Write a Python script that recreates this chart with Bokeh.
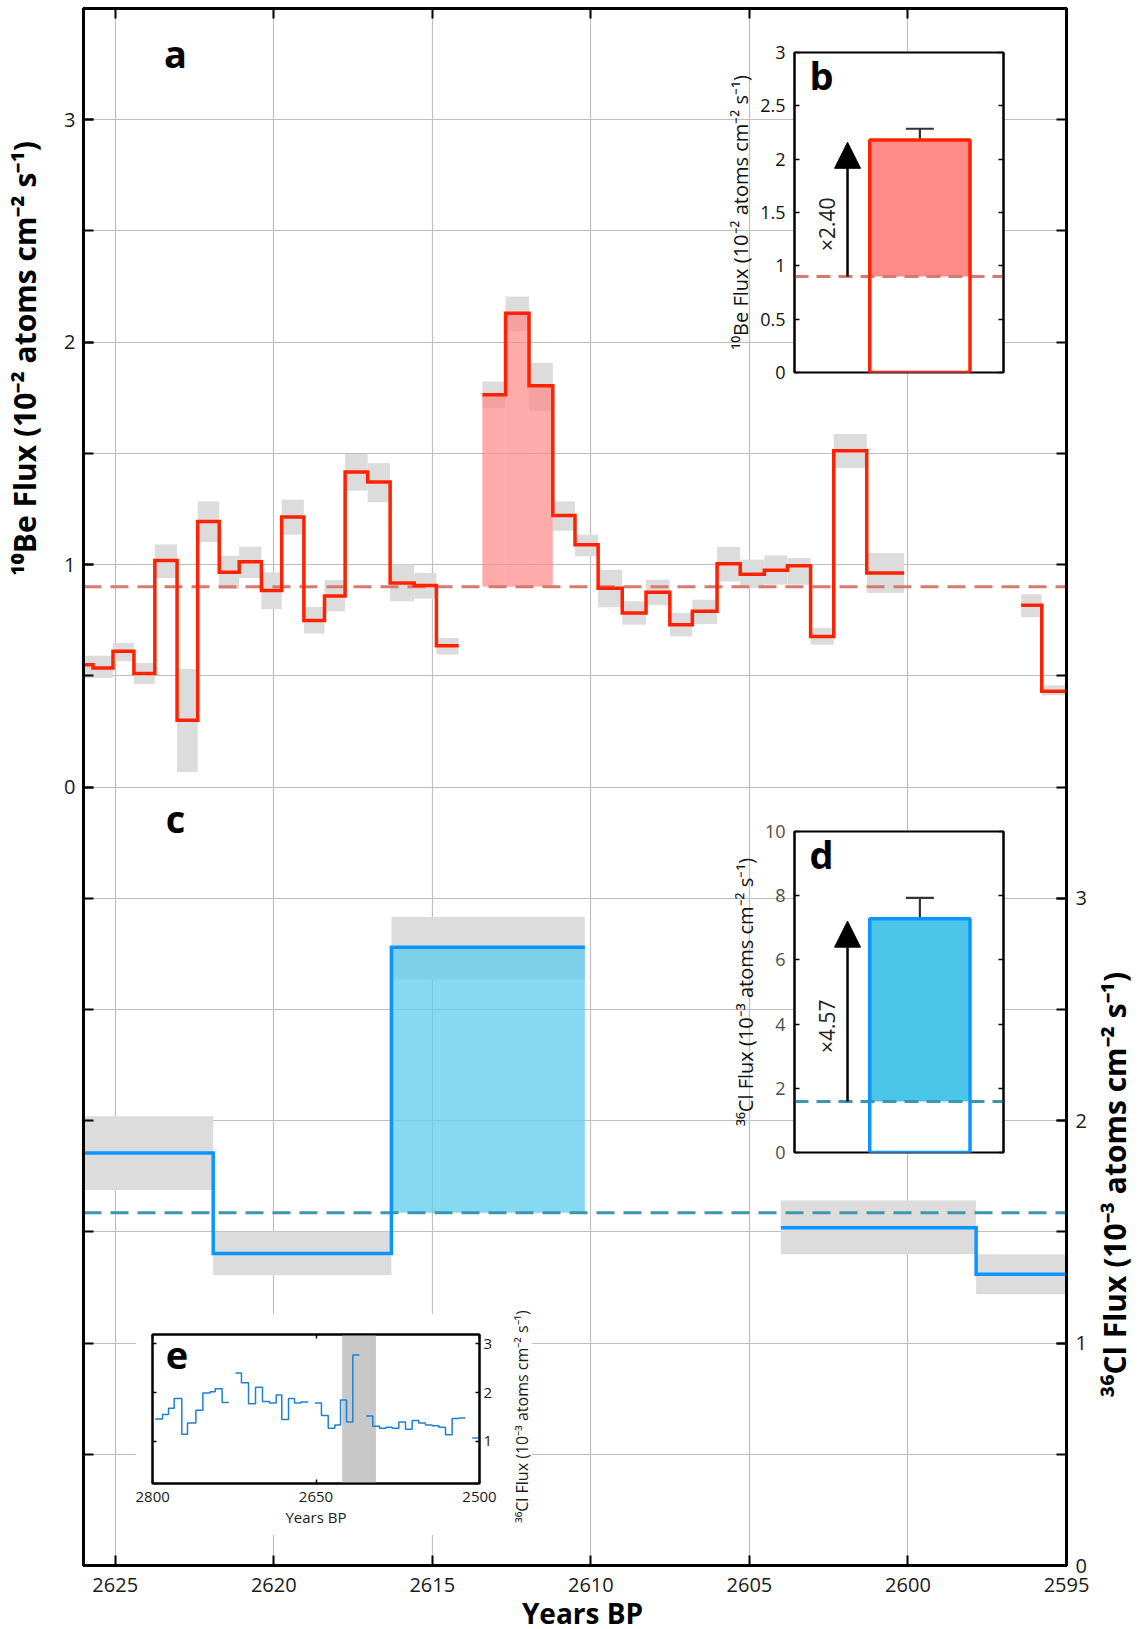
import math
from bokeh.plotting import figure
from bokeh.models import (Range1d, LinearAxis, FixedTicker, Label, ColumnDataSource,
                          Whisker, TeeHead, Arrow, NormalHead, BoxAnnotation)
from bokeh.embed import file_html
from bokeh.resources import INLINE

FONT = "Open Sans"

# ---------------- data ----------------
# 10Be flux (10^-2 atoms cm^-2 s^-1): step edges (years BP), values, 1-sigma band
be_edges_1 = [2626.3, 2625.70, 2625.07, 2624.41, 2623.75, 2623.05, 2622.40, 2621.72, 2621.09,
              2620.39, 2619.75, 2619.05, 2618.40, 2617.75, 2617.04, 2616.33, 2615.57, 2614.87, 2614.17]
be_vals_1 = [0.55, 0.535, 0.61, 0.51, 1.018, 0.30, 1.194, 0.966, 1.013, 0.883, 1.214, 0.749,
             0.859, 1.416, 1.371, 0.917, 0.906, 0.635]
be_hi_1 = [0.59, 0.59, 0.647, 0.557, 1.09, 0.53, 1.284, 1.04, 1.08, 0.965, 1.292, 0.81, 0.93,
           1.497, 1.456, 1.0, 0.962, 0.67]
be_lo_1 = [0.49, 0.49, 0.565, 0.463, 0.94, 0.067, 1.101, 0.89, 0.94, 0.80, 1.134, 0.69, 0.79,
           1.332, 1.28, 0.835, 0.847, 0.595]

be_edges_2 = [2613.42, 2612.69, 2611.95, 2611.20, 2610.50, 2609.77, 2609.01, 2608.26, 2607.51,
              2606.80, 2606.02, 2605.29, 2604.53, 2603.80, 2603.07, 2602.34, 2601.30, 2600.12]
be_vals_2 = [1.763, 2.13, 1.804, 1.221, 1.089, 0.894, 0.782, 0.876, 0.73, 0.79, 1.004, 0.957,
             0.974, 0.995, 0.677, 1.512, 0.962]
be_hi_2 = [1.823, 2.205, 1.906, 1.284, 1.134, 0.977, 0.835, 0.932, 0.782, 0.842, 1.079, 1.022,
           1.041, 1.029, 0.715, 1.587, 1.052]
be_lo_2 = [1.703, 2.048, 1.692, 1.152, 1.037, 0.808, 0.73, 0.817, 0.677, 0.733, 0.924, 0.894,
           0.91, 0.91, 0.64, 1.434, 0.872]

be_edges_3 = [2596.43, 2595.78, 2594.8]
be_vals_3 = [0.817, 0.43]
be_hi_3 = [0.867, 0.457]
be_lo_3 = [0.763, 0.412]

be_mean = 0.90
be_event = (2613.42, 2611.20)

# 36Cl flux (10^-3 atoms cm^-2 s^-1)
cl_edges_1 = [2627.5, 2621.91, 2616.29, 2610.19]
cl_vals_1 = [1.855, 1.403, 2.78]
cl_hi_1 = [2.02, 1.50, 2.916]
cl_lo_1 = [1.688, 1.306, 2.636]

cl_edges_2 = [2604.01, 2597.85, 2591.7]
cl_vals_2 = [1.518, 1.309]
cl_hi_2 = [1.641, 1.399]
cl_lo_2 = [1.399, 1.219]

cl_mean = 1.586
cl_event = (2616.29, 2610.19)

# inset bars
be_peak, be_peak_lo, be_peak_hi, be_ratio = 2.18, 2.05, 2.285, 2.40
cl_peak, cl_peak_lo, cl_peak_hi, cl_ratio = 7.28, 6.62, 7.93, 4.57

# inset e: long 36Cl record (years BP, 10^-3 atoms cm^-2 s^-1)
e_edges = [
    [2797.6, 2790.8, 2785.3, 2780.1, 2773.1, 2767.9, 2760.2, 2753.8, 2747.1, 2742.5, 2736.1, 2730.0],
    [2723.9, 2718.4, 2711.9, 2705.5, 2699.1, 2692.7, 2686.5, 2681.4, 2675.2, 2669.7, 2663.9, 2657.2],
    [2651.1, 2645.0, 2638.8, 2632.7, 2627.5, 2622.0, 2616.2, 2610.1],
    [2604.0, 2597.9, 2591.7, 2585.6, 2580.1, 2574.0, 2567.9, 2561.8, 2555.7, 2549.6, 2543.4,
     2537.3, 2531.2, 2525.1, 2519.0, 2512.9],
    [2506.7, 2500.0],
]
e_vals = [
    [1.46, 1.55, 1.68, 1.88, 1.15, 1.38, 1.64, 1.99, 2.02, 2.08, 1.80],
    [2.40, 2.20, 1.77, 2.11, 1.82, 1.79, 1.95, 1.45, 1.88, 1.79, 1.81],
    [1.79, 1.53, 1.27, 1.34, 1.85, 1.40, 2.77],
    [1.52, 1.31, 1.27, 1.29, 1.27, 1.40, 1.25, 1.43, 1.38, 1.34, 1.32, 1.29, 1.14, 1.47, 1.48],
    [1.07],
]
e_window = (2626.0, 2595.0)

x_ticks = [2625, 2620, 2615, 2610, 2605, 2600, 2595]
be_labels = [0, 1, 2, 3]
cl_labels = [0, 1, 2, 3]
half_steps_left = [i * 0.5 for i in range(-7, 8)]
half_steps_right = [i * 0.5 for i in range(0, 15)]

# ---------------- colours ----------------
RED = "#FF2200"
PINK = "#FF8787"
GRAY = "#DCDCDC"
BE_DASH = "#D67A70"
BLUE = "#0D95FF"
CL_DASH = "#3C96AF"
TXT = "#1A1A1A"


def steps(edges, vals):
    xs, ys = [], []
    for i, v in enumerate(vals):
        xs += [edges[i], edges[i + 1]]
        ys += [v, v]
    return xs, ys


def fmt(t):
    return ("%g" % t)


def tick_only_axis(ticks, width=2, tick_len=5, tick_w=1.5, **kw):
    a = LinearAxis(ticker=FixedTicker(ticks=[], minor_ticks=ticks), **kw)
    a.axis_line_width = width
    a.axis_line_color = "black"
    a.major_tick_line_color = None
    a.minor_tick_in = tick_len
    a.minor_tick_out = 0
    a.minor_tick_line_width = tick_w
    a.minor_tick_line_color = "black"
    a.major_label_standoff = 0
    return a


# ---------------- main figure ----------------
W, H = 1138, 1629
main = figure(width=W, height=H, x_range=Range1d(2626, 2595), y_range=Range1d(-3.5, 3.5),
              output_backend="svg", toolbar_location=None,
              min_border_left=83, min_border_right=72, min_border_top=8, min_border_bottom=64)
main.extra_y_ranges = {"cl": Range1d(0, 7)}
main.outline_line_color = "black"
main.outline_line_width = 3
main.background_fill_color = "white"
main.border_fill_color = "white"

main.xgrid.ticker = FixedTicker(ticks=x_ticks)
main.ygrid.ticker = FixedTicker(ticks=half_steps_left)
for g in (main.xgrid[0], main.ygrid[0]):
    g.grid_line_color = "#BEBEBE"
    g.grid_line_width = 1.2


def style_axis(ax, size="20px"):
    ax.axis_line_width = 3
    ax.axis_line_color = "black"
    ax.major_tick_in = 10
    ax.major_tick_out = 0
    ax.major_tick_line_width = 2
    ax.minor_tick_in = 10
    ax.minor_tick_out = 0
    ax.minor_tick_line_width = 2
    ax.major_label_text_font = FONT
    ax.major_label_text_font_size = size
    ax.major_label_text_color = TXT


xb = main.xaxis[0]
xb.ticker = FixedTicker(ticks=x_ticks)
style_axis(xb)
xb.major_label_standoff = 12

main.add_layout(tick_only_axis(x_ticks, width=3, tick_len=10, tick_w=2), "above")

yl = main.yaxis[0]
yl.ticker = FixedTicker(ticks=be_labels, minor_ticks=half_steps_left)
style_axis(yl)
yl.major_label_standoff = 8

yr = LinearAxis(y_range_name="cl", ticker=FixedTicker(ticks=cl_labels, minor_ticks=half_steps_right))
style_axis(yr)
yr.major_label_standoff = 9
main.add_layout(yr, "right")

# 10Be gray bands, event fill, line
for ed, vals, hi, lo in ((be_edges_1, be_vals_1, be_hi_1, be_lo_1),
                         (be_edges_2, be_vals_2, be_hi_2, be_lo_2),
                         (be_edges_3, be_vals_3, be_hi_3, be_lo_3)):
    main.quad(left=ed[:-1], right=ed[1:], bottom=lo, top=hi, fill_color=GRAY, line_color=None)

ev_l, ev_r, ev_t = [], [], []
for i, v in enumerate(be_vals_2):
    if be_edges_2[i] <= be_event[0] and be_edges_2[i + 1] >= be_event[1]:
        ev_l.append(be_edges_2[i]); ev_r.append(be_edges_2[i + 1]); ev_t.append(v)
main.quad(left=ev_l, right=ev_r, bottom=be_mean, top=ev_t, fill_color=PINK, fill_alpha=0.7,
          line_color=None)

# 36Cl gray bands and event fill
for ed, vals, hi, lo in ((cl_edges_1, cl_vals_1, cl_hi_1, cl_lo_1),
                         (cl_edges_2, cl_vals_2, cl_hi_2, cl_lo_2)):
    main.quad(left=ed[:-1], right=ed[1:], bottom=lo, top=hi, fill_color=GRAY, line_color=None,
              y_range_name="cl")
cl_l, cl_r, cl_t = [], [], []
for i, v in enumerate(cl_vals_1):
    if cl_edges_1[i] <= cl_event[0] and cl_edges_1[i + 1] >= cl_event[1]:
        cl_l.append(cl_edges_1[i]); cl_r.append(cl_edges_1[i + 1]); cl_t.append(v)
main.quad(left=cl_l, right=cl_r, bottom=cl_mean, top=cl_t, fill_color="#5CCDEE", fill_alpha=0.75,
          line_color=None, y_range_name="cl")

# mean dashed lines
main.line([2626, 2595], [be_mean, be_mean], line_color=BE_DASH, line_width=3, line_dash="18 9")
main.line([2626, 2595], [cl_mean, cl_mean], line_color=CL_DASH, line_width=3, line_dash="18 9",
          y_range_name="cl")

for ed, vals in ((be_edges_1, be_vals_1), (be_edges_2, be_vals_2), (be_edges_3, be_vals_3)):
    xs, ys = steps(ed, vals)
    main.line(xs, ys, line_color=RED, line_width=3.5, line_join="miter")

xs, ys = steps(cl_edges_1, cl_vals_1)
main.line(xs, ys, line_color=BLUE, line_width=3.5, y_range_name="cl", line_join="miter")
xs, ys = steps(cl_edges_2, cl_vals_2)
main.line(xs, ys, line_color=BLUE, line_width=3.5, y_range_name="cl", line_join="miter")

# panel letters
main.add_layout(Label(x=2623.1, y=3.30, text="a", text_font=FONT, text_font_size="38px",
                      text_font_style="bold", text_align="center", text_baseline="middle",
                      text_color="black"))
main.add_layout(Label(x=2623.1, y=-0.14, text="c", text_font=FONT, text_font_size="38px",
                      text_font_style="bold", text_align="center", text_baseline="middle",
                      text_color="black"))


# ---------------- insets b and d ----------------
def bar_inset(ymax, yticks, peak, lo, hi, mean, ratio, fill, line, dash, letter, ylabel,
              tick_color, height):
    f = figure(width=313, height=height, x_range=Range1d(0, 1.667), y_range=Range1d(0, ymax),
               output_backend="svg", toolbar_location=None, x_axis_location=None,
               min_border_left=94, min_border_right=10, min_border_top=22, min_border_bottom=22)
    f.background_fill_color = "white"
    f.border_fill_alpha = 0
    f.outline_line_color = "black"
    f.outline_line_width = 2
    f.grid.visible = False
    ax = f.yaxis[0]
    ax.ticker = FixedTicker(ticks=yticks)
    ax.major_label_overrides = {t: fmt(t) for t in yticks}
    ax.axis_line_width = 2
    ax.major_tick_in = 5
    ax.major_tick_out = 0
    ax.minor_tick_line_color = None
    ax.major_tick_line_width = 1.5
    ax.major_label_text_font = FONT
    ax.major_label_text_font_size = "18px"
    ax.major_label_text_color = tick_color
    ax.major_label_standoff = 9
    ax.axis_label = ylabel
    ax.axis_label_text_font = FONT
    ax.axis_label_text_font_size = "20px"
    ax.axis_label_text_font_style = "normal"
    ax.axis_label_text_color = "#111111"
    ax.axis_label_standoff = 3
    f.add_layout(tick_only_axis(yticks), "right")

    f.quad(left=[0.6], right=[1.4], bottom=[0], top=[peak], fill_color="white", line_color=None)
    f.quad(left=[0.6], right=[1.4], bottom=[mean], top=[peak], fill_color=fill, line_color=None)
    f.line([0, 1.667], [mean, mean], line_color=dash, line_width=3, line_dash="14 8")
    f.quad(left=[0.6], right=[1.4], bottom=[0], top=[peak], fill_alpha=0, line_color=line,
           line_width=3.5)
    src = ColumnDataSource(dict(x=[1.0], upper=[hi], lower=[lo]))
    f.add_layout(Whisker(source=src, base="x", upper="upper", lower="lower", dimension="height",
                         line_color="#333333", line_width=2.2,
                         upper_head=TeeHead(size=28, line_color="#333333", line_width=2.2),
                         lower_head=TeeHead(size=28, line_color="#333333", line_width=2.2)))
    f.add_layout(Arrow(x_start=0.423, y_start=mean, x_end=0.423, y_end=peak * 0.99,
                       line_color="black", line_width=2.5,
                       end=NormalHead(size=26, fill_color="black", line_color="black")))
    f.add_layout(Label(x=0.26, y=(mean + peak) / 2 - 0.05 * ymax, text="×%.2f" % ratio,
                       angle=math.pi / 2, text_font=FONT, text_font_size="21px",
                       text_align="center", text_baseline="middle", text_color="#222222"))
    f.add_layout(Label(x=0.215, y=ymax * 0.93, text=letter, text_font=FONT,
                       text_font_size="38px", text_font_style="bold", text_align="center",
                       text_baseline="middle", text_color="black"))
    return f


fb = bar_inset(3, [0, 0.5, 1, 1.5, 2, 2.5, 3], be_peak, be_peak_lo, be_peak_hi, be_mean, be_ratio,
               "#FF8A8A", RED, BE_DASH, "b", "¹⁰Be Flux (10⁻² atoms cm⁻² s⁻¹)", "#111111", 364)
fd = bar_inset(10, [0, 2, 4, 6, 8, 10], cl_peak, cl_peak_lo, cl_peak_hi, cl_mean, cl_ratio,
               "#4BC6E8", BLUE, CL_DASH, "d", "³⁶Cl Flux (10⁻³ atoms cm⁻² s⁻¹)", "#4D4D4D", 365)

# ---------------- inset e ----------------
fe = figure(width=397, height=222, x_range=Range1d(2800, 2500), y_range=Range1d(0.14, 3.19),
            output_backend="svg", toolbar_location=None, y_axis_location="right",
            min_border_left=17, min_border_right=53, min_border_top=21, min_border_bottom=52)
fe.background_fill_color = "white"
fe.border_fill_color = "white"
fe.outline_line_color = "black"
fe.outline_line_width = 2
fe.grid.visible = False
e_xt = [2800, 2650, 2500]
e_yt = [1, 2, 3]
exb = fe.xaxis[0]
exb.ticker = FixedTicker(ticks=e_xt)
eyr = fe.yaxis[0]
eyr.ticker = FixedTicker(ticks=e_yt)
for a in (exb, eyr):
    a.axis_line_width = 2
    a.major_tick_in = 4
    a.major_tick_out = 0
    a.minor_tick_line_color = None
    a.major_tick_line_width = 1.5
    a.major_label_text_font = FONT
    a.major_label_text_font_size = "15px"
    a.major_label_text_color = TXT
    a.major_label_standoff = 8
eyr.major_label_standoff = 4
exb.axis_label = "Years BP"
exb.axis_label_text_font = FONT
exb.axis_label_text_font_size = "15px"
exb.axis_label_text_font_style = "normal"
exb.axis_label_text_color = TXT
exb.axis_label_standoff = 2
fe.add_layout(tick_only_axis(e_xt, tick_len=4), "above")
fe.add_layout(tick_only_axis(e_yt, tick_len=4), "left")

fe.add_layout(BoxAnnotation(left=e_window[1], right=e_window[0], fill_color="#C8C8C8",
                            fill_alpha=1, line_color=None, level="underlay"))
for ed, vals in zip(e_edges, e_vals):
    xs, ys = steps(ed, vals)
    fe.line(xs, ys, line_color="#1F80D2", line_width=1.5)
fe.add_layout(Label(x=2777.6, y=2.76, text="e", text_font=FONT, text_font_size="38px",
                    text_font_style="bold", text_align="center", text_baseline="middle",
                    text_color="black"))

# ---------------- transparent overlay for the axis titles (page pixel coordinates) ----------------
ov = figure(width=W, height=H, x_range=Range1d(0, W), y_range=Range1d(H, 0),
            output_backend="svg", toolbar_location=None, x_axis_location=None,
            y_axis_location=None, min_border=0, min_border_left=0, min_border_right=0,
            min_border_top=0, min_border_bottom=0)
ov.outline_line_color = None
ov.background_fill_alpha = 0
ov.border_fill_alpha = 0
ov.grid.visible = False
ov.add_layout(Label(x=24, y=358, text="¹⁰Be Flux (10⁻² atoms cm⁻² s⁻¹)", angle=math.pi / 2,
                    text_font=FONT, text_font_size="30px", text_font_style="bold",
                    text_align="center", text_baseline="middle", text_color="black"))
ov.add_layout(Label(x=1114, y=1184, text="³⁶Cl Flux (10⁻³ atoms cm⁻² s⁻¹)", angle=math.pi / 2,
                    text_font=FONT, text_font_size="30px", text_font_style="bold",
                    text_align="center", text_baseline="middle", text_color="black"))
ov.add_layout(Label(x=582, y=1612, text="Years BP", text_font=FONT, text_font_size="28px",
                    text_font_style="bold", text_align="center", text_baseline="middle",
                    text_color="black"))
ov.add_layout(Label(x=521, y=1416, text="³⁶Cl Flux (10⁻³ atoms cm⁻² s⁻¹)", angle=math.pi / 2,
                    text_font=FONT, text_font_size="16px", text_align="center",
                    text_baseline="middle", text_color=TXT))

# ---------------- overlay layout: independent roots positioned on the page ----------------
main.styles = {"position": "absolute", "left": "0px", "top": "0px"}
fb.styles = {"position": "absolute", "left": "700px", "top": "30px"}
fd.styles = {"position": "absolute", "left": "700px", "top": "809px"}
fe.styles = {"position": "absolute", "left": "135px", "top": "1313px"}
ov.styles = {"position": "absolute", "left": "0px", "top": "0px"}
p = [main, fb, fd, fe, ov]

open("out.html", "w").write(file_html(p, INLINE))
